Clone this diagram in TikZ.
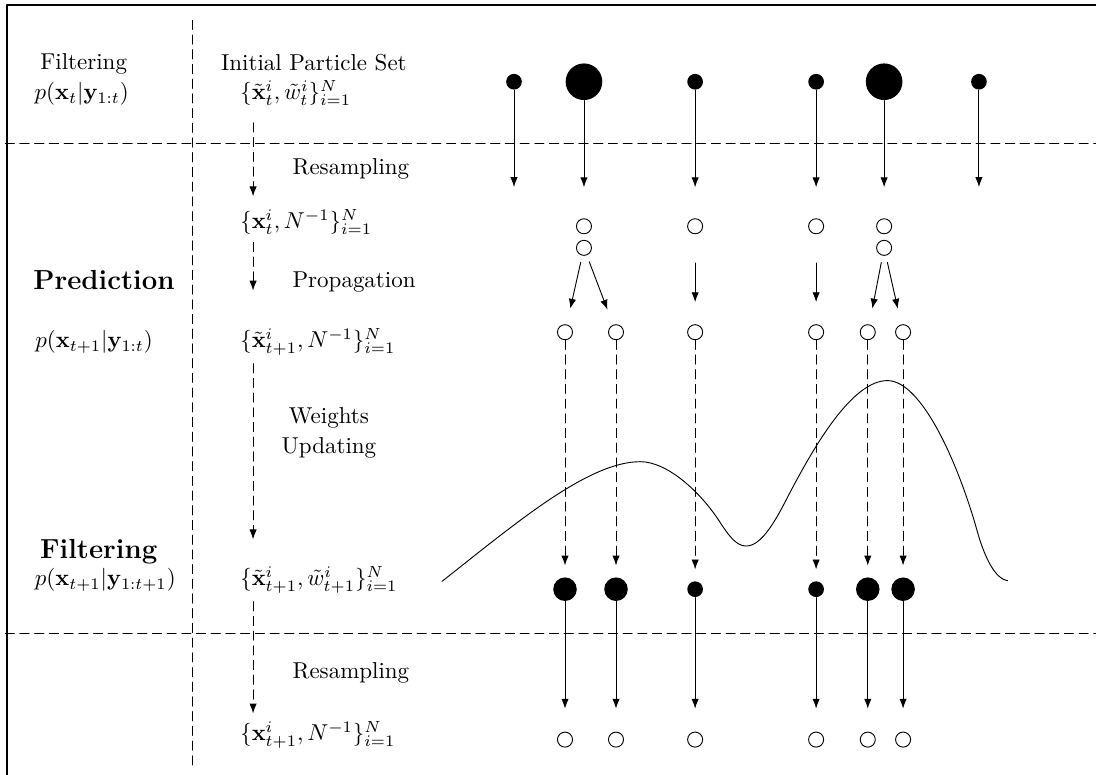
\documentclass[tikz,border=0pt]{standalone}
\usepackage{amsmath}
\usetikzlibrary{arrows.meta}
\begin{document}
\begin{tikzpicture}[>={Latex[length=4.3pt,width=3.2pt]}, line cap=round, line join=round,
	smallp/.style={circle, fill, inner sep=0pt, minimum size=2.4mm},
	bigp/.style={circle, fill, inner sep=0pt, minimum size=5.6mm},
	midp/.style={circle, fill, inner sep=0pt, minimum size=3.6mm},
	emptyp/.style={circle, draw, inner sep=0pt, minimum size=2.3mm},
	dashline/.style={dash pattern=on 4pt off 2.4pt}]
	
	\useasboundingbox (0,0) rectangle (16.76,11.85);
	
	% Khung
	\draw[line width=1.1pt] (0.107,0) -- (0.107,11.77) -- (16.76,11.77);
	
	% Các đường chia nét đứt
	\draw[dashline] (0.08,9.66) -- (16.76,9.66);
	\draw[dashline] (0.08,2.17) -- (16.76,2.17);
	\draw[dashline] (2.95,11.54) -- (2.95,0.08);
	
	% Cột trái
	\node (fl0) at (1.28,10.87) {Filtering};
	\node (pd0) at (1.25,10.41) {$p(\mathbf{x}_t|\mathbf{y}_{1:t})$};
	\node[font=\large\bfseries] (pr) at (1.59,7.57) {Prediction};
	\node (pd1) at (1.44,6.62) {$p(\mathbf{x}_{t+1}|\mathbf{y}_{1:t})$};
	\node[font=\large\bfseries] (fl1) at (1.51,3.42) {Filtering};
	\node (pd2) at (1.61,2.98) {$p(\mathbf{x}_{t+1}|\mathbf{y}_{1:t+1})$};
	
	% Cột giữa
	\node (init) at (4.80,10.89) {Initial Particle Set};
	\node[anchor=west] (s0) at (3.55,10.43) {$\{\tilde{\mathbf{x}}_t^i,\tilde{w}_t^i\}_{i=1}^N$};
	\node[anchor=west] (rs1) at (4.35,9.26) {Resampling};
	\node[anchor=west] (s1) at (3.55,8.46) {$\{\mathbf{x}_t^i,N^{-1}\}_{i=1}^N$};
	\node[anchor=west] (pg) at (4.35,7.54) {Propagation};
	\node[anchor=west] (s2) at (3.55,6.62) {$\{\tilde{\mathbf{x}}_{t+1}^i,N^{-1}\}_{i=1}^N$};
	\node[align=center] (wu) at (5.03,5.23) {Weights\\[1pt]Updating};
	\node[anchor=west] (s3) at (3.55,2.98) {$\{\tilde{\mathbf{x}}_{t+1}^i,\tilde{w}_{t+1}^i\}_{i=1}^N$};
	\node[anchor=west] (rs2) at (4.35,1.56) {Resampling};
	\node[anchor=west] (s4) at (3.55,0.61) {$\{\mathbf{x}_{t+1}^i,N^{-1}\}_{i=1}^N$};
	
	\coordinate (col) at (3.87,0);
	\draw[dashline,->,shorten <=4pt,shorten >=2pt] (s0.south -| col) -- (s1.north -| col);
	\draw[dashline,->,shorten >=13pt] (s1.south -| col) -- (s2.north -| col);
	\draw[dashline,->,shorten >=8.3pt] (s2.south -| col) -- (s3.north -| col);
	\draw[dashline,->] (s3.south -| col) -- (s4.north -| col);
	
	% Tập hạt ban đầu
	\node[smallp] (t1) at (7.86,10.60) {};
	\node[bigp] (t2) at (8.93,10.60) {};
	\node[smallp] (t3) at (10.63,10.60) {};
	\node[smallp] (t4) at (12.48,10.60) {};
	\node[bigp] (t5) at (13.52,10.60) {};
	\node[smallp] (t6) at (14.97,10.60) {};
	\coordinate (e1) at (7.86,8.99);
	\coordinate (e6) at (14.97,8.99);
	
	% Sau khi tái chọn mẫu
	\node[emptyp] (r1) at (8.93,8.39) {};
	\node[emptyp] (r2) at (8.93,8.06) {};
	\node[emptyp] (r3) at (10.63,8.39) {};
	\node[emptyp] (r4) at (12.48,8.39) {};
	\node[emptyp] (r5) at (13.52,8.39) {};
	\node[emptyp] (r6) at (13.52,8.06) {};
	
	% Sau khi lan truyền
	\node[emptyp] (p1) at (8.64,6.77) {};
	\node[emptyp] (p2) at (9.42,6.77) {};
	\node[emptyp] (p3) at (10.63,6.77) {};
	\node[emptyp] (p4) at (12.48,6.77) {};
	\node[emptyp] (p5) at (13.27,6.77) {};
	\node[emptyp] (p6) at (13.81,6.77) {};
	
	% Trọng số mới
	\node[midp] (f1) at (8.64,2.84) {};
	\node[midp] (f2) at (9.42,2.84) {};
	\node[smallp] (f3) at (10.63,2.84) {};
	\node[smallp] (f4) at (12.48,2.84) {};
	\node[midp] (f5) at (13.27,2.84) {};
	\node[midp] (f6) at (13.81,2.84) {};
	
	% Tái chọn mẫu lần hai
	\node[emptyp] (b1) at (8.64,0.54) {};
	\node[emptyp] (b2) at (9.42,0.54) {};
	\node[emptyp] (b3) at (10.63,0.54) {};
	\node[emptyp] (b4) at (12.48,0.54) {};
	\node[emptyp] (b5) at (13.27,0.54) {};
	\node[emptyp] (b6) at (13.81,0.54) {};
	
	% Mũi tên tái chọn mẫu
	\draw[->] (t1) -- (e1);
	\draw[->,shorten >=13.5pt] (t2) -- (r1);
	\draw[->,shorten >=13.5pt] (t3) -- (r3);
	\draw[->,shorten >=13.5pt] (t4) -- (r4);
	\draw[->,shorten >=13.5pt] (t5) -- (r5);
	\draw[->] (t6) -- (e6);
	
	% Mũi tên lan truyền
	\draw[->,shorten <=3pt,shorten >=7pt] (r2) -- (p1);
	\draw[->,shorten <=3pt,shorten >=7pt] (r2) -- (p2);
	\draw[->,shorten <=12.6pt,shorten >=9.6pt] (r3) -- (p3);
	\draw[->,shorten <=12.6pt,shorten >=9.6pt] (r4) -- (p4);
	\draw[->,shorten <=3pt,shorten >=7pt] (r6) -- (p5);
	\draw[->,shorten <=3pt,shorten >=7pt] (r6) -- (p6);
	
	% Hàm hợp lý
	\draw (6.76,2.96) .. controls (7.90,3.86) and (9.00,4.79) .. (9.79,4.79)
	.. controls (10.20,4.79) and (10.70,4.34) .. (11.00,3.88)
	.. controls (11.13,3.68) and (11.25,3.50) .. (11.41,3.50)
	.. controls (11.70,3.50) and (11.95,4.08) .. (12.15,4.45)
	.. controls (12.50,5.10) and (13.05,6.03) .. (13.57,6.03)
	.. controls (14.10,6.03) and (14.66,4.74) .. (14.94,3.74)
	.. controls (15.04,3.38) and (15.20,3.00) .. (15.41,2.97);
	
	% Cập nhật trọng số
	\draw[dashline,->,shorten >=5pt] (p1) -- (f1);
	\draw[dashline,->,shorten >=5pt] (p2) -- (f2);
	\draw[dashline,->,shorten >=5pt] (p3) -- (f3);
	\draw[dashline,->,shorten >=5pt] (p4) -- (f4);
	\draw[dashline,->,shorten >=5pt] (p5) -- (f5);
	\draw[dashline,->,shorten >=5pt] (p6) -- (f6);
	
	% Mũi tên tái chọn mẫu lần hai
	\draw[->,shorten >=10pt] (f1) -- (b1);
	\draw[->,shorten >=10pt] (f2) -- (b2);
	\draw[->,shorten >=10pt] (f3) -- (b3);
	\draw[->,shorten >=10pt] (f4) -- (b4);
	\draw[->,shorten >=10pt] (f5) -- (b5);
	\draw[->,shorten >=10pt] (f6) -- (b6);
	
\end{tikzpicture}
\end{document}
